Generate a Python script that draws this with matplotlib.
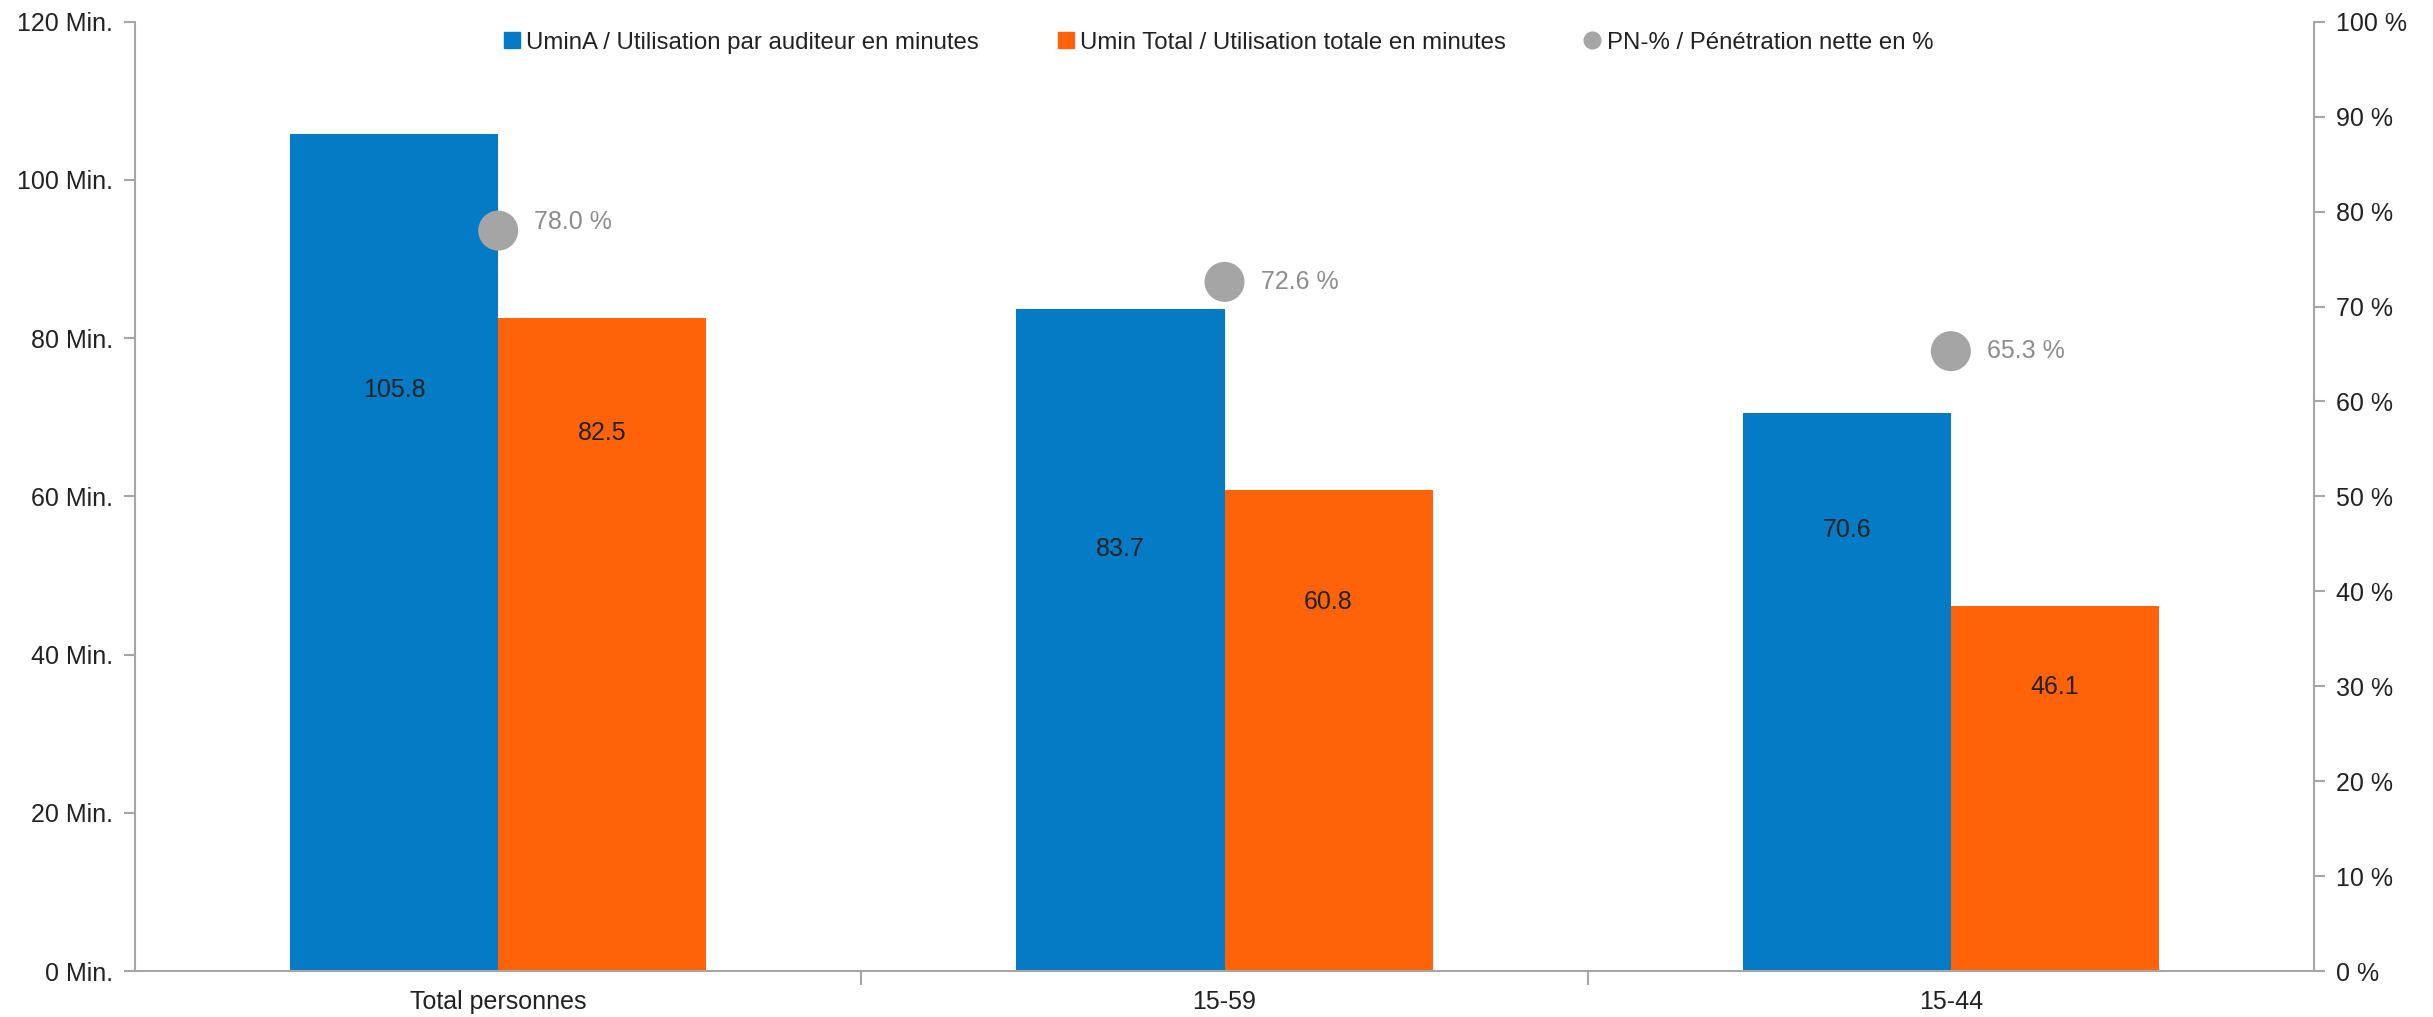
import matplotlib
matplotlib.use("Agg")
import matplotlib.pyplot as plt
from matplotlib.lines import Line2D
from matplotlib.ticker import FixedLocator, FuncFormatter
import numpy as np

plt.rcParams['font.family'] = ['Liberation Sans', 'DejaVu Sans']

categories = ["Total personnes", "15-59", "15-44"]
umin_a = [105.8, 83.7, 70.6]
umin_total = [82.5, 60.8, 46.1]
pn_pct = [78.0, 72.6, 65.3]

series_labels = [
    "UminA / Utilisation par auditeur en minutes",
    "Umin Total / Utilisation totale en minutes",
    "PN-% / Pénétration nette en %",
]

# vertical placement of the value labels inside the bars (in minutes)
label_y_a = [73.5, 53.3, 55.7]
label_y_t = [68.0, 46.7, 35.9]
# vertical nudge of the penetration labels (points)
pn_label_dy = [6, 0, 0]

BLUE = "#047BC4"
ORANGE = "#FF6309"
GREY = "#A5A5A5"
AXIS = "#A6A6A6"
TEXT = "#222222"

fig = plt.figure(figsize=(24.33, 10.17), dpi=100)
ax = fig.add_axes([0.0555, 0.0452, 0.8956, 0.9334])
ax2 = ax.twinx()

x = np.arange(len(categories))
w = 0.2865
ax.bar(x - w / 2, umin_a, width=w, color=BLUE, zorder=2)
ax.bar(x + w / 2, umin_total, width=w, color=ORANGE, zorder=2)

for xi, v, ly in zip(x, umin_a, label_y_a):
    ax.text(xi - w / 2, ly, f"{v:.1f}", ha="center", va="center",
            fontsize=18, color=TEXT, zorder=3)
for xi, v, ly in zip(x, umin_total, label_y_t):
    ax.text(xi + w / 2, ly, f"{v:.1f}", ha="center", va="center",
            fontsize=18, color=TEXT, zorder=3)

ax2.scatter(x, pn_pct, s=830, color=GREY, zorder=4, edgecolors="none")
for xi, v, dy in zip(x, pn_pct, pn_label_dy):
    ax2.annotate(f"{v:.1f} %", (xi, v), xytext=(26, dy), textcoords="offset points",
                 ha="left", va="center", fontsize=18, color="#8C8C8C")

ax.set_xlim(-0.5, 2.5)
ax.set_ylim(0, 120)
ax2.set_ylim(0, 100)

ax.yaxis.set_major_locator(FixedLocator(np.arange(0, 121, 20)))
ax.yaxis.set_major_formatter(FuncFormatter(lambda v, p: f"{int(v)} Min."))
ax2.yaxis.set_major_locator(FixedLocator(np.arange(0, 101, 10)))
ax2.yaxis.set_major_formatter(FuncFormatter(lambda v, p: f"{int(v)} %"))

# category dividers as major ticks, names as minor ticks
ax.set_xticks([0.5, 1.5])
ax.set_xticklabels([])
ax.set_xticks(x, minor=True)
ax.set_xticklabels(categories, minor=True)
ax.tick_params(axis="x", which="major", length=10, width=1.5, color=AXIS, direction="out")
ax.tick_params(axis="x", which="minor", length=0, pad=14, labelsize=18, labelcolor=TEXT)

ax.tick_params(axis="y", length=8, width=1.5, color=AXIS, labelsize=18, labelcolor=TEXT, pad=8)
ax2.tick_params(axis="y", length=8, width=1.5, color=AXIS, labelsize=18, labelcolor=TEXT, pad=8)

for a in (ax, ax2):
    a.spines["top"].set_visible(False)
    for side in ("left", "right", "bottom"):
        a.spines[side].set_color(AXIS)
        a.spines[side].set_linewidth(1.5)
ax.spines["right"].set_visible(False)
ax2.spines["left"].set_visible(False)
ax2.spines["bottom"].set_visible(False)

handles = [
    Line2D([], [], marker="s", linestyle="none", markersize=12, color=BLUE),
    Line2D([], [], marker="s", linestyle="none", markersize=12, color=ORANGE),
    Line2D([], [], marker="o", linestyle="none", markersize=12, color=GREY),
]
fig.legend(handles, series_labels, loc="center", bbox_to_anchor=(0.501, 0.958),
           ncol=3, frameon=False, fontsize=17.3, handlelength=0.6, handletextpad=0.3,
           columnspacing=3.3, labelcolor=TEXT)

fig.savefig("out.png", dpi=100)
